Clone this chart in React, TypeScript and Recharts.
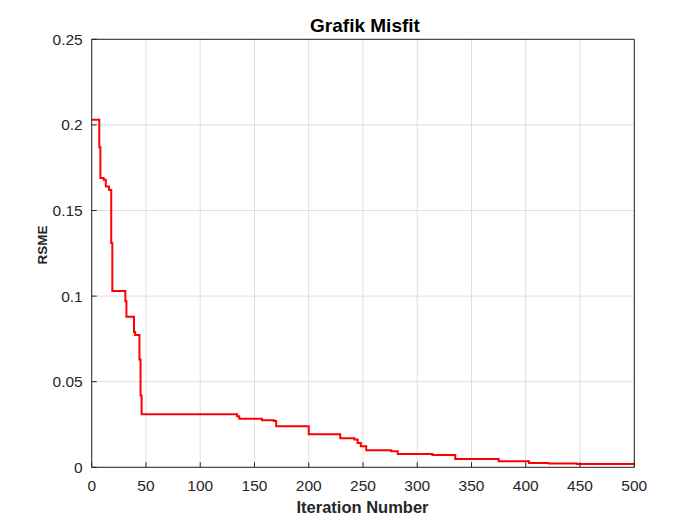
import React from 'react';
import { LineChart, Line, XAxis, YAxis, CartesianGrid } from 'recharts';

const iterations = [0, 7, 8, 11, 13, 16, 18, 19, 31, 32, 39, 40, 44, 45, 46, 134, 136, 157, 168, 170, 200, 229, 242, 245, 248, 253, 276, 282, 314, 335, 375, 403, 421, 447, 500];
const rmse = [0.203, 0.187, 0.169, 0.168, 0.164, 0.162, 0.131, 0.103, 0.097, 0.088, 0.079, 0.0773, 0.063, 0.042, 0.031, 0.0298, 0.0283, 0.0275, 0.027, 0.024, 0.0193, 0.017, 0.0163, 0.0142, 0.0123, 0.01, 0.0094, 0.0078, 0.0072, 0.0048, 0.0035, 0.0025, 0.0022, 0.002, 0.002];
const xTicks = [0, 50, 100, 150, 200, 250, 300, 350, 400, 450, 500];
const yTicks = [0, 0.05, 0.1, 0.15, 0.2, 0.25];
const yTickLabels = ['0', '0.05', '0.1', '0.15', '0.2', '0.25'];

const title = 'Grafik Misfit';
const xLabel = 'Iteration Number';
const yLabel = 'RSME';

const data = iterations.map((it, i) => ({ it, v: rmse[i] }));

const FONT = '"Liberation Sans", Arial, Helvetica, sans-serif';
const AX = '#262626';

export default function App() {
  const tickStyle = { fontSize: 15.5, fill: AX, fontFamily: FONT };
  return (
    <div style={{ position: 'relative', width: 684, height: 509, fontFamily: FONT }}>
      <LineChart
        width={684}
        height={509}
        data={data}
        margin={{ top: 30.3, right: 56.7, bottom: 9.7, left: 43.7 }}
      >
        <CartesianGrid stroke="#dfdfdf" strokeWidth={1} />
        <XAxis
          dataKey="it"
          type="number"
          domain={[0, 500]}
          ticks={xTicks}
          interval={0}
          height={40}
          stroke={AX}
          tickSize={-5}
          tickMargin={18}
          tick={tickStyle}
          allowDataOverflow
        />
        <XAxis
          xAxisId="top"
          orientation="top"
          dataKey="it"
          type="number"
          domain={[0, 500]}
          ticks={xTicks}
          interval={0}
          height={1}
          stroke={AX}
          tickSize={-5}
          tick={false}
          allowDataOverflow
        />
        <YAxis
          type="number"
          domain={[0, 0.25]}
          ticks={yTicks}
          interval={0}
          width={40}
          stroke={AX}
          tickSize={-5}
          tickMargin={14}
          tick={tickStyle}
          tickFormatter={(v: number) => yTickLabels[yTicks.indexOf(v)] ?? String(v)}
          allowDataOverflow
        />
        <YAxis
          yAxisId="right"
          orientation="right"
          type="number"
          domain={[0, 0.25]}
          ticks={yTicks}
          interval={0}
          width={1}
          stroke={AX}
          tickSize={-5}
          tick={false}
          allowDataOverflow
        />
        <Line
          type="stepAfter"
          dataKey="v"
          stroke="#ff0000"
          strokeWidth={2}
          dot={false}
          activeDot={false}
          isAnimationActive={false}
        />
      </LineChart>
      <div
        style={{
          position: 'absolute', left: 257, width: 200, top: 7.6, textAlign: 'center',
          fontSize: 19, lineHeight: '19px', fontWeight: 'bold', color: '#000',
          whiteSpace: 'nowrap',
        }}
      >
        {title}
      </div>
      <div
        style={{
          position: 'absolute', left: 254.5, width: 200, top: 491, textAlign: 'center',
          fontSize: 16.5, lineHeight: '16.5px', fontWeight: 'bold', color: AX,
          whiteSpace: 'nowrap',
        }}
      >
        {xLabel}
      </div>
      <div
        style={{
          position: 'absolute', left: 35.3, top: 237, fontSize: 13.5, lineHeight: '13.5px',
          fontWeight: 'bold', color: AX, whiteSpace: 'nowrap',
          transform: 'translate(-50%, -50%) rotate(-90deg)',
        }}
      >
        {yLabel}
      </div>
    </div>
  );
}
